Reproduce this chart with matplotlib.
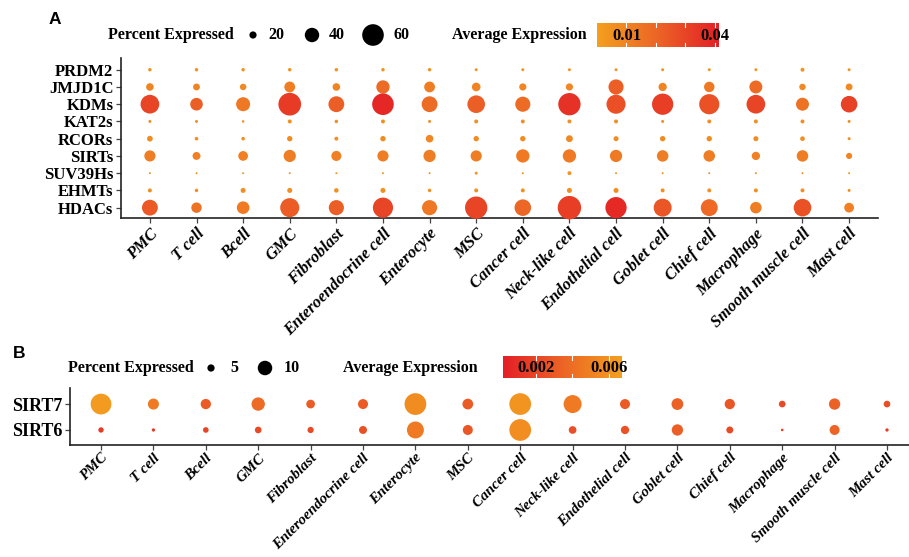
import numpy as np
import matplotlib
matplotlib.use("Agg")
import matplotlib.pyplot as plt
from matplotlib.colors import LinearSegmentedColormap

W, H, DPI = 909, 557, 100

cell_types = ["PMC", "T cell", "Bcell", "GMC", "Fibroblast", "Enteroendocrine cell",
              "Enterocyte", "MSC", "Cancer cell", "Neck-like cell", "Endothelial cell",
              "Goblet cell", "Chief cell", "Macrophage", "Smooth muscle cell", "Mast cell"]

# ---- Panel A: gene families (top to bottom) ----
families = ["PRDM2", "JMJD1C", "KDMs", "KAT2s", "RCORs", "SIRTs", "SUV39Hs", "EHMTs", "HDACs"]

pct_a = {
    "PRDM2":   [9.7, 9.7, 9.7, 9.7, 9.7, 9.7, 9.7, 8.3, 8.3, 8.3, 8.3, 8.3, 8.3, 8.3, 11.0, 8.3],
    "JMJD1C":  [21, 19, 18, 30, 21, 37, 30, 24, 20, 20, 42, 23, 29, 36, 18, 19],
    "KDMs":    [52, 35, 39, 63, 44, 60, 44, 49, 42, 62, 53, 59, 56, 52, 36, 46],
    "KAT2s":   [8.3, 8.3, 7.0, 11, 9.7, 11, 8.3, 11, 11, 11, 11, 8.3, 11, 11, 11, 8.3],
    "RCORs":   [16, 10, 10, 15, 11, 15, 21, 15, 15, 19, 14, 15, 15, 14, 13, 8.3],
    "SIRTs":   [31, 22, 27, 34, 28, 31, 34, 31, 37, 37, 34, 32, 32, 23, 32, 17],
    "SUV39Hs": [5.6, 5.6, 5.6, 5.6, 5.6, 5.6, 5.6, 8.3, 5.6, 11, 5.6, 5.6, 5.6, 5.6, 5.6, 5.6],
    "EHMTs":   [11, 9.7, 14, 14, 12.5, 14, 9.7, 11, 11, 14, 14, 11, 11, 11, 11, 8.3],
    "HDACs":   [44, 29, 35, 53, 42, 56, 42, 62, 46, 65, 59, 50, 47, 32, 49, 27],
}

avg_a = {
    "PRDM2":   [0.004] * 16,
    "JMJD1C":  [0.010, 0.010, 0.008, 0.012, 0.010, 0.018, 0.012, 0.010, 0.009, 0.009,
                0.022, 0.010, 0.014, 0.018, 0.008, 0.008],
    "KDMs":    [0.030, 0.022, 0.014, 0.033, 0.022, 0.039, 0.018, 0.022, 0.018, 0.036,
                0.027, 0.032, 0.026, 0.030, 0.016, 0.031],
    "KAT2s":   [0.006] * 16,
    "RCORs":   [0.007, 0.006, 0.006, 0.007, 0.006, 0.007, 0.009, 0.007, 0.007, 0.008,
                0.007, 0.007, 0.007, 0.007, 0.006, 0.006],
    "SIRTs":   [0.012, 0.011, 0.011, 0.012, 0.011, 0.012, 0.012, 0.012, 0.013, 0.013,
                0.013, 0.012, 0.012, 0.011, 0.012, 0.010],
    "SUV39Hs": [0.004] * 16,
    "EHMTs":   [0.006] * 16,
    "HDACs":   [0.024, 0.016, 0.013, 0.023, 0.022, 0.030, 0.014, 0.030, 0.020, 0.032,
                0.038, 0.025, 0.019, 0.012, 0.026, 0.011],
}

legend_pct_a = [20, 40, 60]
cbar_a_range = (0.0, 0.0414)
cbar_a_ticks = [0.01, 0.02, 0.03, 0.04]
cbar_a_labels = {0.01: "0.01", 0.04: "0.04"}

# ---- Panel B: sirtuins ----
sirts = ["SIRT7", "SIRT6"]
pct_b = {
    "SIRT7": [14.3, 7.6, 7.1, 9.2, 6.0, 6.9, 15.0, 7.4, 15.0, 12.4, 6.9, 8.1, 7.1, 4.6, 7.8, 4.6],
    "SIRT6": [3.7, 2.3, 3.9, 4.6, 4.3, 5.5, 11.7, 6.9, 15.0, 5.3, 5.7, 7.8, 4.8, 1.8, 6.9, 2.3],
}
avg_b = {
    "SIRT7": [0.0064, 0.0046, 0.0030, 0.0038, 0.0030, 0.0030, 0.0056, 0.0030, 0.0060, 0.0046,
              0.0030, 0.0033, 0.0028, 0.0022, 0.0033, 0.0024],
    "SIRT6": [0.0015, 0.0015, 0.0020, 0.0022, 0.0022, 0.0025, 0.0046, 0.0028, 0.0057, 0.0024,
              0.0026, 0.0032, 0.0022, 0.0015, 0.0035, 0.0015],
}
legend_pct_b = [5, 10]
cbar_b_range = (0.0002, 0.00666)
cbar_b_ticks = [0.002, 0.004, 0.006]
cbar_b_labels = {0.002: "0.002", 0.006: "0.006"}

ORANGE = "#F4A01F"
RED = "#E41F26"
cmap_a = LinearSegmentedColormap.from_list("org_red", [ORANGE, "#EC6426", RED])
cmap_b = LinearSegmentedColormap.from_list("red_org", [RED, "#EC6426", ORANGE])

SERIF = "Liberation Serif"
SANS = "Liberation Sans"
INK = "black"


def size_pts2(pct, px_per_pct):
    d_pt = np.asarray(pct, dtype=float) * px_per_pct * 72.0 / DPI
    return d_pt ** 2


fig = plt.figure(figsize=(W / DPI, H / DPI), dpi=DPI)


def px_axes(x0, y0, x1, y1):
    return fig.add_axes([x0 / W, 1 - y1 / H, (x1 - x0) / W, (y1 - y0) / H])


def style_axes(ax, xpad):
    for s in ("top", "right"):
        ax.spines[s].set_visible(False)
    for s in ("left", "bottom"):
        ax.spines[s].set_linewidth(1.2)
        ax.spines[s].set_color("#222222")
    ax.tick_params(length=3.5, width=0.9, color="#444444", pad=2)
    ax.tick_params(axis="x", pad=xpad)


def dot_panel(ax, rows, pct, avg, cmap, vrange, px_per_pct, yfs, xfs, xpad):
    n = len(rows)
    for i, r in enumerate(rows):
        y = n - 1 - i
        ax.scatter(np.arange(len(cell_types)), np.full(len(cell_types), y),
                   s=size_pts2(pct[r], px_per_pct), c=avg[r], cmap=cmap,
                   vmin=vrange[0], vmax=vrange[1], edgecolors="none",
                   zorder=3, clip_on=False)
    ax.set_yticks(np.arange(n))
    ax.set_yticklabels(rows[::-1], fontfamily=SERIF, fontweight="bold", fontsize=yfs,
                       color=INK)
    ax.set_xticks(np.arange(len(cell_types)))
    ax.set_xticklabels(cell_types, rotation=45, ha="right", rotation_mode="anchor",
                       fontfamily=SERIF, fontweight="bold", fontstyle="italic",
                       fontsize=xfs, color=INK)
    style_axes(ax, xpad)


# Panel A dot plot
axA = px_axes(121, 58, 878, 218)
dot_panel(axA, families, pct_a, avg_a, cmap_a, cbar_a_range, 0.36, 12, 12, 2)
axA.set_xlim(-0.62, 15.62)
axA.set_ylim(-0.6, 8.68)

# Panel B dot plot
axB = px_axes(70, 388, 909, 445)
dot_panel(axB, sirts, pct_b, avg_b, cmap_b, cbar_b_range, 1.45, 13, 10.8, 1)
axB.set_xlim(-0.592, 15.42)
axB.set_ylim(-0.58, 1.62)


def colorbar(x0, y0, x1, y1, cmap, vrange, ticks, labels, fs):
    cax = px_axes(x0, y0, x1, y1)
    grad = np.linspace(vrange[0], vrange[1], 256)[None, :]
    cax.imshow(grad, aspect="auto", cmap=cmap, extent=(vrange[0], vrange[1], 0, 1),
               vmin=vrange[0], vmax=vrange[1])
    cax.set_xlim(*vrange)
    cax.set_ylim(0, 1)
    cax.axis("off")
    for t in ticks:
        cax.plot([t, t], [0, 0.18], color="white", lw=0.8)
        cax.plot([t, t], [0.82, 1], color="white", lw=0.8)
    for t, lab in labels.items():
        cax.text(t, 0.45, lab, ha="center", va="center", fontfamily=SERIF,
                 fontweight="bold", fontsize=fs, color=INK, clip_on=False)


colorbar(597, 23, 719, 47, cmap_a, cbar_a_range, cbar_a_ticks, cbar_a_labels, 12)
colorbar(503, 356, 621, 378, cmap_b, cbar_b_range, cbar_b_ticks, cbar_b_labels, 12)

# Overlay for panel letters and size legends, in pixel coordinates
ov = fig.add_axes([0, 0, 1, 1], zorder=5)
ov.set_xlim(0, W)
ov.set_ylim(H, 0)
ov.axis("off")
ov.patch.set_alpha(0)

ov.text(55, 19, "A", ha="center", va="center", fontfamily=SANS, fontweight="bold", fontsize=12.5)
ov.text(19, 353, "B", ha="center", va="center", fontfamily=SANS, fontweight="bold", fontsize=12.5)

txt = dict(fontfamily=SERIF, fontweight="bold", fontsize=11.5, va="center", color=INK)
ov.text(108, 35, "Percent Expressed", ha="left", **txt)
ov.text(452, 35, "Average Expression", ha="left", **txt)
for p, xd, xl in zip(legend_pct_a, [253, 312, 373], [268, 329, 394]):
    ov.scatter([xd], [35], s=size_pts2([p], 0.36), color="black", edgecolors="none")
    ov.text(xl, 35, str(p), ha="left", **txt)

ov.text(68, 368, "Percent Expressed", ha="left", **txt)
ov.text(343, 368, "Average Expression", ha="left", **txt)
for p, xd, xl in zip(legend_pct_b, [211, 265], [230, 284]):
    ov.scatter([xd], [368], s=size_pts2([p], 1.45), color="black", edgecolors="none")
    ov.text(xl, 368, str(p), ha="left", **txt)

fig.savefig("out.png", dpi=DPI)
